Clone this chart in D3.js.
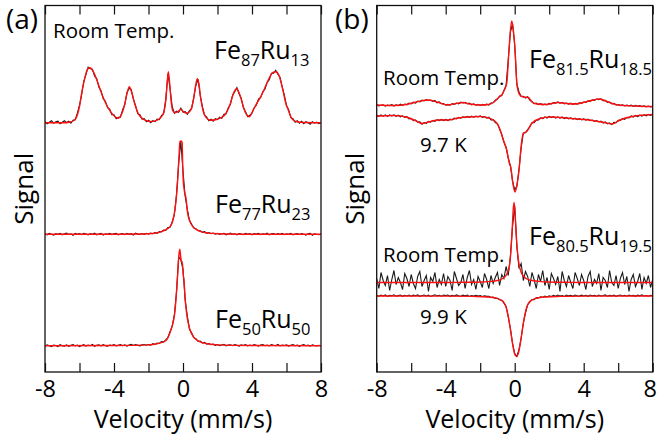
<!DOCTYPE html>
<html>
<head>
<meta charset="utf-8">
<script src="https://cdn.jsdelivr.net/npm/d3@7"></script>
<style>
  body { margin: 0; background: #fff; }
  svg text { font-family: "Open Sans", "Noto Sans", sans-serif; fill: #000; }
</style>
</head>
<body>
<svg id="chart" width="657" height="441"></svg>
<script>
// ---- velocity axis -------------------------------------------------------
const VEL_MIN = -8, VEL_MAX = 8;
const velocityTicks = [-8, -6, -4, -2, 0, 2, 4, 6, 8];
const velocityLabels = [-8, -4, 0, 4, 8];

// ---- measured spectra: one value per channel, channels evenly spaced from -8 to 8 mm/s
const fe87ru13Data = [
  0.1,-0.1,0.05,0.2,-0.05,0.1,0.15,-0.1,0.05,0.2,0.0,0.15,-0.05,0.25,0.3,0.95,
  1.75,2.8,4.15,4.8,5.55,5.4,5.35,4.65,4.4,3.55,3.2,2.4,2.15,1.5,1.35,0.8,
  0.8,0.4,0.55,0.55,1.3,1.8,3.0,3.45,3.3,2.35,1.7,0.9,0.8,0.35,0.4,0.1,
  0.25,0.0,0.2,0.1,0.35,0.3,0.7,0.9,2.3,4.9,3.4,1.6,0.95,1.15,1.05,1.45,
  1.05,1.1,0.85,1.2,1.4,2.55,3.75,4.35,2.7,1.6,0.75,0.55,0.2,0.35,0.15,0.4,
  0.3,0.55,0.45,0.85,0.9,1.5,1.85,2.75,3.1,3.5,2.9,2.45,1.5,1.1,0.6,0.75,
  0.95,1.5,1.75,2.35,2.5,3.1,3.35,4.0,4.3,4.95,4.95,5.25,4.85,4.55,3.6,2.75,
  1.7,1.3,0.5,0.4,0.05,0.2,-0.05,0.15,-0.1,0.1,0.0,-0.15,0.1,-0.05,0.05,-0.1,
  0.0];
const fe77ru23Data = [
  0.05,-0.05,0.1,0.0,-0.08,0.06,0.0,0.1,-0.05,0.05,0.12,-0.02,0.04,-0.1,0.08,0.0,
  0.06,-0.04,0.1,0.02,-0.06,0.08,0.0,0.12,-0.05,0.03,0.1,-0.08,0.05,0.0,0.09,-0.03,
  0.04,0.1,-0.06,0.02,0.08,-0.04,0.1,0.0,0.06,-0.08,0.12,0.02,-0.02,0.08,0.0,0.1,
  0.02,0.12,0.06,0.18,0.1,0.28,0.25,0.42,0.4,0.68,0.7,1.25,2.0,4.0,7.1,9.3,
  6.3,3.8,2.5,1.4,1.0,0.62,0.55,0.35,0.36,0.2,0.26,0.1,0.18,0.06,0.12,0.02,
  0.1,-0.02,0.06,0.1,-0.05,0.04,0.12,0.0,0.05,-0.06,0.08,0.02,-0.04,0.1,0.0,0.06,
  -0.05,0.08,0.02,0.1,-0.03,0.05,0.0,0.12,-0.06,0.04,0.08,-0.02,0.06,0.0,0.1,-0.04,
  0.05,0.0,0.1,-0.06,0.03,0.08,-0.02,0.06,0.0,-0.08,0.05,0.1,-0.1,0.04,0.0,-0.05,
  0.02];
const fe50ru50Data = [
  -0.05,0.08,0.0,-0.1,0.06,0.02,-0.08,0.1,0.0,-0.04,0.08,-0.06,0.04,0.1,-0.02,0.06,
  -0.08,0.02,0.1,-0.04,0.06,0.0,0.12,-0.06,0.04,0.08,-0.02,0.1,0.0,-0.05,0.07,0.02,
  0.1,-0.03,0.05,0.12,0.0,0.08,-0.05,0.06,0.14,0.02,0.1,0.04,-0.02,0.08,0.12,0.05,
  0.12,0.06,0.2,0.12,0.26,0.22,0.4,0.36,0.58,0.82,1.4,1.95,3.1,5.4,8.9,8.6,
  7.6,4.6,2.95,1.65,1.3,0.8,0.7,0.42,0.45,0.26,0.34,0.16,0.22,0.1,0.15,0.04,
  0.12,0.0,0.08,0.14,-0.02,0.06,0.1,0.0,0.12,0.04,-0.04,0.08,0.02,0.1,-0.02,0.06,
  0.0,0.1,0.04,-0.05,0.08,0.12,0.0,0.06,-0.03,0.1,0.04,0.0,0.12,-0.02,0.06,0.02,
  0.08,-0.04,0.05,0.1,0.0,0.06,-0.06,0.04,0.1,0.0,0.05,-0.05,0.08,0.02,-0.02,0.04,
  0.0];
const fe815RoomData = [
  0.1,0.0,0.08,0.12,-0.02,0.1,0.04,0.14,0.0,0.12,0.04,0.18,0.06,0.2,0.12,0.28,
  0.22,0.38,0.3,0.48,0.42,0.58,0.5,0.64,0.55,0.6,0.46,0.55,0.32,0.4,0.22,0.24,
  0.08,0.16,0.08,0.24,0.16,0.3,0.22,0.38,0.3,0.36,0.22,0.28,0.12,0.22,0.08,0.16,
  0.06,0.16,0.08,0.2,0.1,0.3,0.32,0.58,0.7,1.0,1.05,1.55,2.05,4.6,7.4,8.2,
  6.1,2.2,1.4,0.95,0.96,0.8,0.92,0.6,0.45,0.24,0.28,0.14,0.24,0.12,0.2,0.12,
  0.26,0.2,0.34,0.28,0.4,0.28,0.36,0.22,0.3,0.18,0.28,0.16,0.26,0.18,0.32,0.26,
  0.4,0.36,0.52,0.46,0.62,0.56,0.7,0.64,0.72,0.54,0.56,0.36,0.4,0.22,0.26,0.1,
  0.14,0.04,0.12,0.0,0.1,0.02,0.08,-0.04,0.06,-0.02,0.04,-0.06,0.02,-0.08,-0.01,-0.1,
  -0.04];
const fe815LowData = [
  0.08,-0.04,0.1,-0.02,0.12,-0.04,0.1,0.0,0.12,-0.03,0.08,-0.08,0.02,-0.14,-0.06,-0.28,
  -0.24,-0.46,-0.4,-0.62,-0.58,-0.82,-0.66,-0.74,-0.54,-0.62,-0.46,-0.54,-0.36,-0.46,-0.34,-0.46,
  -0.34,-0.46,-0.32,-0.38,-0.22,-0.3,-0.14,-0.22,-0.08,-0.16,-0.04,-0.14,-0.02,-0.12,0.0,-0.1,
  0.02,-0.14,-0.06,-0.22,-0.12,-0.4,-0.36,-0.66,-0.78,-1.32,-1.85,-2.6,-3.15,-4.2,-4.95,-6.5,
  -7.4,-7.0,-5.3,-3.2,-1.7,-1.68,-1.36,-1.1,-0.68,-0.66,-0.42,-0.4,-0.18,-0.26,-0.1,-0.2,
  -0.04,-0.16,-0.06,-0.2,-0.08,-0.22,-0.1,-0.26,-0.14,-0.28,-0.18,-0.32,-0.22,-0.36,-0.26,-0.38,
  -0.28,-0.42,-0.32,-0.46,-0.4,-0.54,-0.46,-0.6,-0.52,-0.7,-0.6,-0.78,-0.68,-0.86,-0.64,-0.66,
  -0.42,-0.44,-0.26,-0.34,-0.14,-0.2,0.0,-0.1,0.06,-0.06,0.08,-0.02,0.12,0.02,0.16,0.06,
  0.18];
const fe805RoomData = [
  0.4,-0.6,1.0,0.2,-0.3,0.7,-0.8,0.3,1.2,-0.2,0.5,0.0,-0.7,0.9,0.4,-0.4,
  0.8,-0.1,-0.6,0.6,1.1,-0.4,0.2,0.7,-0.9,0.5,0.1,1.0,-0.5,0.3,-0.2,0.9,
  -0.4,0.6,0.2,-0.8,1.1,0.4,-0.3,0.0,0.8,-0.6,0.5,1.2,-0.2,0.3,-0.7,0.6,
  0.1,-0.5,0.9,0.3,-0.6,0.7,-0.1,0.5,1.0,-0.3,0.8,0.4,1.6,0.7,2.6,5.6,
  7.6,3.6,1.4,1.9,0.2,1.1,0.6,-0.4,1.0,0.3,-0.6,0.8,0.1,1.2,-0.3,0.5,
  -0.7,0.9,0.4,-0.2,0.6,-0.9,1.1,0.2,-0.4,0.7,0.0,-0.6,1.0,0.4,-0.3,0.8,
  0.2,-0.7,0.6,1.1,-0.4,0.3,-0.1,0.9,-0.8,0.5,0.2,-0.5,1.2,0.0,-0.3,0.7,
  -0.6,0.4,1.0,-0.2,0.6,-0.9,0.3,0.8,-0.4,0.1,0.9,-0.7,0.5,-0.1,0.7,-0.5,
  0.3];
const fe805LowData = [
  0.06,-0.02,0.08,0.0,0.1,-0.04,0.06,0.02,0.12,-0.02,0.04,0.1,-0.03,0.07,0.0,0.09,
  -0.02,0.08,0.03,0.11,-0.03,0.05,0.1,0.0,0.08,-0.04,0.06,0.12,0.01,0.07,-0.02,0.09,
  0.04,0.1,-0.03,0.06,0.0,0.11,0.03,-0.02,0.08,0.02,0.1,-0.04,0.05,0.0,0.07,-0.01,
  0.04,-0.06,0.02,-0.04,-0.04,-0.15,-0.1,-0.24,-0.22,-0.38,-0.42,-0.72,-1.05,-2.1,-3.25,-4.75,
  -5.75,-6.05,-5.35,-4.2,-2.7,-1.68,-0.88,-0.6,-0.35,-0.36,-0.16,-0.2,-0.08,-0.14,-0.02,-0.1,
  0.02,-0.06,0.06,-0.02,0.1,0.0,0.05,-0.04,0.09,0.01,0.06,-0.03,0.1,0.02,-0.01,0.08,
  0.0,0.07,-0.03,0.1,0.02,0.06,-0.02,0.09,0.0,0.05,0.11,-0.02,0.06,0.01,0.08,-0.03,
  0.05,0.1,0.0,0.07,-0.02,0.09,0.03,0.06,-0.03,0.08,0.02,0.11,0.0,0.05,-0.02,0.07,
  0.02];

// ---- fitted curves: [velocity (mm/s), signal]
const fe87ru13Fit = [[-8,0],[-7,0],[-6.6,0.05],[-6.3,0.25],[-6.16,0.6],[-6.0,1.6],[-5.87,3.0],[-5.7,4.4],[-5.55,5.3],[-5.39,5.5],[-5.2,5.1],[-5.0,4.3],[-4.8,3.3],[-4.52,2.1],[-4.2,1.1],[-3.94,0.6],[-3.75,0.45],[-3.55,0.9],[-3.4,1.7],[-3.25,2.9],[-3.11,3.6],[-2.97,3.0],[-2.8,1.9],[-2.59,0.9],[-2.3,0.35],[-2.0,0.15],[-1.81,0.12],[-1.5,0.25],[-1.25,0.6],[-1.1,1.1],[-1.0,2.2],[-0.92,3.9],[-0.85,5.1],[-0.77,3.9],[-0.68,2.0],[-0.58,1.15],[-0.46,1.0],[-0.3,1.1],[-0.12,1.35],[0.05,1.05],[0.21,0.95],[0.35,1.05],[0.5,1.5],[0.62,2.4],[0.73,3.7],[0.83,4.4],[0.93,3.8],[1.03,2.4],[1.18,1.1],[1.35,0.5],[1.57,0.25],[1.9,0.3],[2.2,0.5],[2.43,0.8],[2.6,1.3],[2.72,1.8],[2.9,2.8],[3.0,3.2],[3.11,3.4],[3.25,3.0],[3.4,2.2],[3.5,1.6],[3.65,0.9],[3.84,0.6],[4.08,1.3],[4.3,2.0],[4.46,2.45],[4.7,3.3],[4.95,4.3],[5.2,5.0],[5.39,5.1],[5.55,4.8],[5.7,3.9],[5.81,3.1],[5.95,2.0],[6.1,1.3],[6.25,0.6],[6.39,0.27],[6.6,0.1],[7,0.02],[8,0]];
const fe77ru23Fit = [[-8,0],[-4,0.01],[-2,0.05],[-1.5,0.15],[-1.0,0.45],[-0.75,0.76],[-0.6,1.3],[-0.5,2.1],[-0.4,3.4],[-0.31,5.4],[-0.22,8.2],[-0.18,9.3],[-0.1,9.33],[-0.05,9.2],[-0.02,7.1],[0.02,5.2],[0.06,4.6],[0.1,4.1],[0.16,3.76],[0.27,2.1],[0.4,1.3],[0.5,0.93],[0.75,0.5],[1.0,0.3],[1.5,0.12],[2,0.06],[4,0.01],[8,0]];
const fe50ru50Fit = [[-8,0],[-4,0.02],[-2,0.08],[-1.5,0.2],[-1.0,0.5],[-0.7,1.57],[-0.55,2.5],[-0.48,3.24],[-0.4,4.8],[-0.33,6.57],[-0.25,8.8],[-0.19,9.64],[-0.14,9.0],[-0.1,8.5],[-0.06,8.4],[-0.02,8.0],[0.02,7.0],[0.06,6.57],[0.12,4.8],[0.21,3.24],[0.3,2.3],[0.41,1.57],[0.6,0.9],[0.8,0.57],[1.0,0.38],[1.5,0.17],[2,0.08],[4,0.02],[8,0]];
const fe815RoomFit = [[-8,0.1],[-7,0.05],[-6.3,0.15],[-5.7,0.4],[-5.0,0.6],[-4.4,0.35],[-3.9,0.1],[-3.4,0.25],[-3.0,0.35],[-2.6,0.2],[-2.0,0.1],[-1.5,0.15],[-1.2,0.4],[-0.9,0.9],[-0.75,1.1],[-0.6,1.6],[-0.46,2.3],[-0.33,5.6],[-0.25,7.5],[-0.17,8.5],[-0.08,7.6],[0.02,5.6],[0.12,2.3],[0.2,1.5],[0.3,1.1],[0.5,0.9],[0.79,0.85],[1.0,0.4],[1.28,0.2],[1.8,0.15],[2.5,0.35],[3.0,0.25],[3.5,0.2],[4.2,0.45],[4.9,0.7],[5.5,0.35],[6.0,0.1],[7,0.0],[8,-0.05]];
const fe815LowFit = [[-8,0.0],[-7,0.05],[-6.3,-0.1],[-5.7,-0.5],[-5.37,-0.75],[-5.0,-0.6],[-4.4,-0.4],[-3.8,-0.4],[-3.3,-0.2],[-2.8,-0.1],[-2.0,-0.05],[-1.5,-0.2],[-1.2,-0.45],[-0.96,-0.9],[-0.8,-1.6],[-0.66,-2.4],[-0.46,-3.4],[-0.3,-4.8],[-0.23,-5.1],[-0.1,-6.8],[0.02,-7.6],[0.12,-7.0],[0.27,-5.1],[0.35,-3.4],[0.5,-1.75],[0.7,-1.55],[0.98,-0.75],[1.47,-0.25],[2.05,-0.1],[3.0,-0.2],[3.6,-0.3],[4.1,-0.35],[4.7,-0.5],[5.2,-0.65],[5.65,-0.8],[6.1,-0.4],[6.8,-0.05],[8,0.15]];
const fe805RoomFit = [[-8,0],[-4,0],[-3,0.02],[-2,0.05],[-1.5,0.09],[-1.2,0.14],[-1.0,0.2],[-0.8,0.3],[-0.7,0.4],[-0.6,0.52],[-0.5,0.72],[-0.4,1.07],[-0.3,1.72],[-0.24,2.7],[-0.19,4.0],[-0.14,5.5],[-0.09,7.2],[-0.04,8.0],[0.01,7.3],[0.06,5.75],[0.11,4.2],[0.16,3.1],[0.26,1.75],[0.36,1.1],[0.46,0.74],[0.56,0.55],[0.66,0.4],[0.86,0.25],[1.0,0.2],[1.5,0.09],[2.0,0.05],[3.0,0.02],[4.0,0],[8,0]];
const fe805LowFit = [[-8,0],[-3.9,-0.01],[-2.4,-0.04],[-1.5,-0.1],[-1.1,-0.2],[-0.8,-0.4],[-0.65,-0.6],[-0.5,-1.1],[-0.4,-1.8],[-0.3,-2.75],[-0.2,-3.9],[-0.1,-5.0],[0.0,-5.8],[0.1,-6.05],[0.2,-5.8],[0.3,-5.0],[0.4,-3.9],[0.5,-2.75],[0.6,-1.8],[0.7,-1.1],[0.85,-0.6],[1.0,-0.4],[1.3,-0.2],[1.7,-0.1],[2.6,-0.04],[4.1,-0.01],[8,0]];

// ---- layout ---------------------------------------------------------------
const svg = d3.select("#chart");
const SIGNAL_SPAN = 36.65;   // signal units spanned by each frame

const panels = [
  { tag: "(a)", tagX: 6, x0: 45, x1: 321, y0: 5.5, y1: 372,
    spectra: [
      { data: fe87ru13Data, fit: fe87ru13Fit, offset: 24.93 },
      { data: fe77ru23Data, fit: fe77ru23Fit, offset: 13.77 },
      { data: fe50ru50Data, fit: fe50ru50Fit, offset: 2.63 }
    ],
    notes: [
      { text: "Room Temp.", x: 53, y: 38 }
    ],
    formulas: [
      { parts: ["Fe", "87", "Ru", "13"], x: 214, y: 59.3 },
      { parts: ["Fe", "77", "Ru", "23"], x: 215, y: 212.7 },
      { parts: ["Fe", "50", "Ru", "50"], x: 215, y: 328.3 }
    ],
    signalX: 33
  },
  { tag: "(b)", tagX: 335, x0: 376.7, x1: 652.7, y0: 5.5, y1: 372,
    spectra: [
      { data: fe815RoomData, fit: fe815RoomFit, offset: 26.6 },
      { data: fe815LowData, fit: fe815LowFit, offset: 25.6 },
      { data: fe805RoomData, fit: fe805RoomFit, offset: 8.95 },
      { data: fe805LowData, fit: fe805LowFit, offset: 7.6 }
    ],
    notes: [
      { text: "Room Temp.", x: 383, y: 85 },
      { text: "9.7 K", x: 420, y: 151.7 },
      { text: "Room Temp.", x: 383, y: 261.7 },
      { text: "9.9 K", x: 420, y: 324 }
    ],
    formulas: [
      { parts: ["Fe", "81.5", "Ru", "18.5"], x: 529, y: 68.3 },
      { parts: ["Fe", "80.5", "Ru", "19.5"], x: 529, y: 245 }
    ],
    signalX: 364
  }
];

panels.forEach((p, pi) => {
  const g = svg.append("g");
  const x = d3.scaleLinear().domain([VEL_MIN, VEL_MAX]).range([p.x0, p.x1]);
  const y = d3.scaleLinear().domain([0, SIGNAL_SPAN]).range([p.y1, p.y0]);

  const clipId = "clip" + pi;
  svg.append("clipPath").attr("id", clipId)
    .append("rect").attr("x", p.x0).attr("y", p.y0)
    .attr("width", p.x1 - p.x0).attr("height", p.y1 - p.y0);

  const plot = g.append("g").attr("clip-path", `url(#${clipId})`);

  p.spectra.forEach(s => {
    const n = s.data.length;
    const step = (VEL_MAX - VEL_MIN) / (n - 1);
    const measured = d3.line()
      .x((d, i) => x(VEL_MIN + i * step))
      .y(d => y(d + s.offset));
    plot.append("path").datum(s.data)
      .attr("d", measured)
      .attr("fill", "none").attr("stroke", "#1a1a1a")
      .attr("stroke-width", 1.1);
    const fitted = d3.line()
      .x(d => x(d[0]))
      .y(d => y(d[1] + s.offset))
      .curve(d3.curveMonotoneX);
    plot.append("path").datum(s.fit)
      .attr("d", fitted)
      .attr("fill", "none").attr("stroke", "#ff1010")
      .attr("stroke-width", 1.4);
  });

  // frame
  g.append("rect").attr("x", p.x0).attr("y", p.y0)
    .attr("width", p.x1 - p.x0).attr("height", p.y1 - p.y0)
    .attr("fill", "none").attr("stroke", "#111").attr("stroke-width", 1.3);

  // ticks pointing into the frame, labels below (every other tick labelled)
  const bottom = d3.axisBottom(x).tickValues(velocityTicks)
    .tickSizeInner(-9).tickSizeOuter(0)
    .tickFormat(d => velocityLabels.includes(d) ? String(d) : "");
  const bAxis = g.append("g").attr("transform", `translate(0,${p.y1})`).call(bottom);
  bAxis.attr("font-family", null).attr("font-size", null);
  bAxis.select(".domain").remove();
  bAxis.selectAll("line").attr("stroke", "#111").attr("stroke-width", 1.2);
  bAxis.selectAll("text").filter(d => !velocityLabels.includes(d)).remove();
  bAxis.selectAll("text").attr("y", 25).attr("dy", 0)
    .attr("font-size", 23.5).attr("fill", "#000")
    .attr("dx", d => (pi === 1 && d === VEL_MAX) ? -3 : 0);

  const top = d3.axisTop(x).tickValues(velocityTicks)
    .tickSizeInner(-9).tickSizeOuter(0).tickFormat("");
  const tAxis = g.append("g").attr("transform", `translate(0,${p.y0})`).call(top);
  tAxis.select(".domain").remove();
  tAxis.selectAll("text").remove();
  tAxis.selectAll("line").attr("stroke", "#111").attr("stroke-width", 1.2);

  // axis titles
  g.append("text").attr("x", (p.x0 + p.x1) / 2).attr("y", 428)
    .attr("text-anchor", "middle").attr("font-size", 25).text("Velocity (mm/s)");
  g.append("text")
    .attr("transform", `translate(${p.signalX},${(p.y0 + p.y1) / 2}) rotate(-90)`)
    .attr("text-anchor", "middle").attr("font-size", 26).text("Signal");

  // panel tag
  g.append("text").attr("x", p.tagX).attr("y", 29)
    .attr("font-size", 28).text(p.tag);

  p.notes.forEach(nt => {
    g.append("text").attr("x", nt.x).attr("y", nt.y)
      .attr("font-size", 20.5).text(nt.text);
  });

  p.formulas.forEach(f => {
    const t = g.append("text").attr("x", f.x).attr("y", f.y).attr("font-size", 25);
    f.parts.forEach((part, k) => {
      const sub = k % 2 === 1;
      t.append("tspan")
        .attr("font-size", sub ? 16.5 : 25)
        .attr("dy", k === 0 ? 0 : (sub ? 7 : -7))
        .text(part);
    });
  });
});
</script>
</body>
</html>
